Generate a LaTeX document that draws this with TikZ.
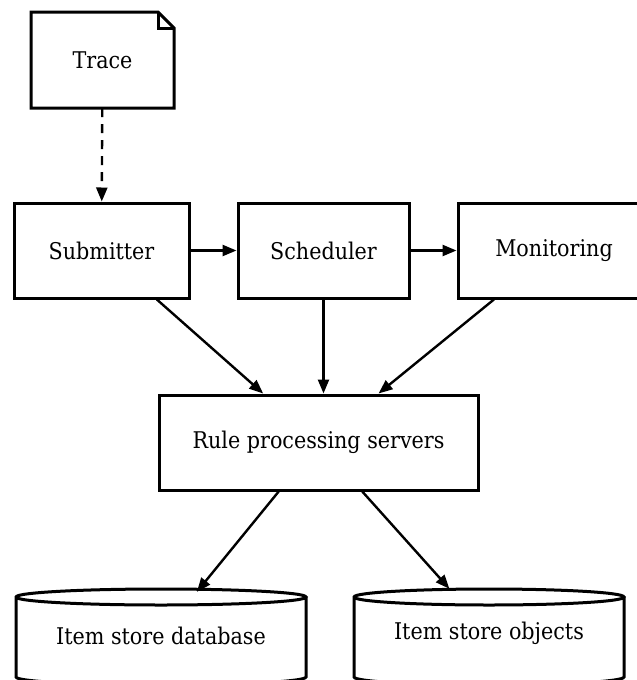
\documentclass[tikz,border=0pt]{standalone}
\usepackage{fontspec}
\setmainfont{DejaVu Serif Condensed}
\usetikzlibrary{arrows.meta}
\begin{document}
\begin{tikzpicture}[x=1pt,y=-1pt,
  lbl/.style={font=\fontsize{23}{27}\selectfont},
  box/.style={draw,line width=3pt,rectangle,inner sep=0pt,minimum height=95pt,lbl},
  ghost/.style={rectangle,inner sep=0pt,lbl},
  outl/.style={line width=3pt,line join=miter},
  conn/.style={line width=2.4pt,-{Triangle[length=14pt,width=11pt]}},
  dconn/.style={conn,dash pattern=on 9pt off 7pt}]
\useasboundingbox (0,0) rectangle (637,680);
% Trace document
\node[ghost,minimum width=143pt,minimum height=96pt] (trace) at (102.5,60) {Trace};
\draw[outl] (31,12) -- (158,12) -- (174,28) -- (174,108) -- (31,108) -- cycle;
\draw[outl] (158,12) -- (158,28) -- (174,28);
% boxes
\node[box,minimum width=175pt] (sub) at (101.5,250.5) {Submitter};
\node[box,minimum width=171pt] (sch) at (323.5,250.5) {Scheduler};
\node[box,minimum width=192pt] (mon) at (554,250.5) {Monitoring};
\node[box,minimum width=319pt] (rule) at (318.5,442.5) {Rule processing servers};
% cylinders
\node[ghost,minimum width=290pt,minimum height=88pt] (db) at (161,636) {Item store database};
\node[ghost,minimum width=270pt,minimum height=88pt] (obj) at (489,633) {Item store objects};
\draw[outl] (16,597) arc[start angle=180,end angle=360,x radius=145pt,y radius=8pt]
  arc[start angle=0,end angle=180,x radius=145pt,y radius=8pt] -- (16,677)
  arc[start angle=180,end angle=360,x radius=145pt,y radius=8pt] -- (306,597);
\draw[outl] (354,597) arc[start angle=180,end angle=360,x radius=135pt,y radius=8pt]
  arc[start angle=0,end angle=180,x radius=135pt,y radius=8pt] -- (354,677)
  arc[start angle=180,end angle=360,x radius=135pt,y radius=8pt] -- (624,597);
% connectors
\draw[dconn] (trace) -- (sub);
\draw[conn] (sub) -- (sch);
\draw[conn] (sch) -- (mon);
\draw[conn] (sub) -- (rule);
\draw[conn] (sch.south) -- (sch.south |- rule.north);
\draw[conn] (mon) -- (rule);
\draw[conn] (rule) -- (db);
\draw[conn] (rule) -- (obj);
\end{tikzpicture}
\end{document}
